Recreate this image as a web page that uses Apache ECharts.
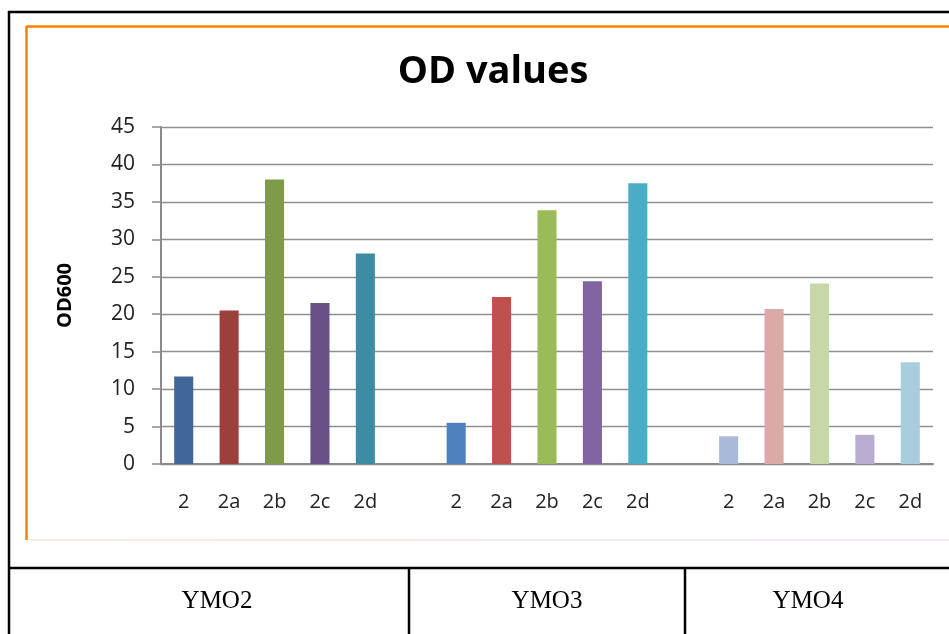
<!DOCTYPE html>
<html>
<head>
<meta charset="utf-8">
<script src="https://cdn.jsdelivr.net/npm/echarts@6/dist/echarts.min.js"></script>
<style>
  html, body { margin: 0; padding: 0; background: #fff; }
  #chart { width: 949px; height: 634px; }
</style>
</head>
<body>
<div id="chart"></div>
<script>
// 3 strains x 5 samples, an empty slot between the groups
const categories = ['2', '2a', '2b', '2c', '2d', '', '2', '2a', '2b', '2c', '2d', '', '2', '2a', '2b', '2c', '2d']
const odValues = [11.7, 20.5, 38.0, 21.5, 28.1, null, 5.5, 22.3, 33.9, 24.4, 37.5, null, 3.7, 20.7, 24.1, 3.9, 13.6]
const barColors = [
  '#3f6899', '#9c403d', '#7f9a48', '#695185', '#3c8da3', null,
  '#4f81bd', '#c0504d', '#9bbb59', '#8064a2', '#4bacc6', null,
  '#a9b9d9', '#daa9a8', '#c6d7a8', '#b8add0', '#a8cede',
]
const yTicks = [0, 45, 5] // min, max, step
const strains = ['YMO2', 'YMO3', 'YMO4']

const myChart = echarts.init(document.getElementById('chart'))

const line = (x1, y1, x2, y2, stroke, w) => ({
  type: 'line',
  silent: true,
  shape: { x1, y1, x2, y2 },
  style: { stroke, lineWidth: w },
})

const option = {
  animation: false,
  title: {
    text: 'OD values',
    left: 493,
    top: 48,
    textAlign: 'center',
    textStyle: { fontFamily: 'Open Sans', fontWeight: 'bold', fontSize: 38, color: '#000' },
  },
  grid: { left: 161, top: 127, width: 772, height: 337 },
  xAxis: {
    type: 'category',
    data: categories,
    axisLine: { lineStyle: { color: '#8a8a8a', width: 2 } },
    axisTick: { length: 7, lineStyle: { color: '#8a8a8a', width: 1.5 } },
    axisLabel: { margin: 28, fontFamily: 'Open Sans', fontSize: 20, color: '#222', interval: 0 },
  },
  yAxis: {
    type: 'value',
    min: yTicks[0],
    max: yTicks[1],
    interval: yTicks[2],
    name: 'OD600',
    nameLocation: 'middle',
    nameRotate: 90,
    nameGap: 86,
    nameTextStyle: { fontFamily: 'Open Sans', fontWeight: 'bold', fontSize: 20, color: '#000' },
    axisLine: { show: true, lineStyle: { color: '#8a8a8a', width: 2 } },
    axisTick: { show: true, length: 9, lineStyle: { color: '#8a8a8a', width: 1.5 } },
    axisLabel: { margin: 26, fontFamily: 'Open Sans', fontSize: 21, color: '#222' },
    splitLine: { lineStyle: { color: '#8f8f8f', width: 1.3 } },
  },
  series: [
    {
      type: 'bar',
      barWidth: '42%',
      data: odValues.map((v, i) => ({ value: v, itemStyle: { color: barColors[i] } })),
    },
  ],
  graphic: [
    // outer table frame
    line(8, 12, 949, 12, '#000', 2.5),
    line(9, 11, 9, 634, '#000', 2.5),
    line(8, 568, 949, 568, '#000', 2.5),
    line(409, 568, 409, 634, '#000', 2.5),
    line(685, 568, 685, 634, '#000', 2.5),
    // orange chart border
    line(26, 26.5, 949, 26.5, '#ff8000', 2.5),
    line(26.5, 26, 26.5, 540, '#ff8000', 2.5),
    {
      type: 'line',
      silent: true,
      shape: { x1: 28, y1: 540, x2: 949, y2: 540 },
      style: {
        lineWidth: 1.2,
        stroke: new echarts.graphic.LinearGradient(0, 0, 1, 0, [
          { offset: 0, color: '#fcd9c4' },
          { offset: 1, color: '#e8d4f0' },
        ]),
      },
    },
    ...strains.map((s, i) => ({
      type: 'text',
      silent: true,
      x: [217, 547, 808][i],
      y: 601,
      style: {
        text: s,
        fontFamily: 'Liberation Serif',
        fontSize: 25,
        fill: '#000',
        align: 'center',
        verticalAlign: 'middle',
      },
    })),
  ],
}

// title is centred a little left of the grid centre
option.title.left = 488

myChart.setOption(option)
</script>
</body>
</html>
